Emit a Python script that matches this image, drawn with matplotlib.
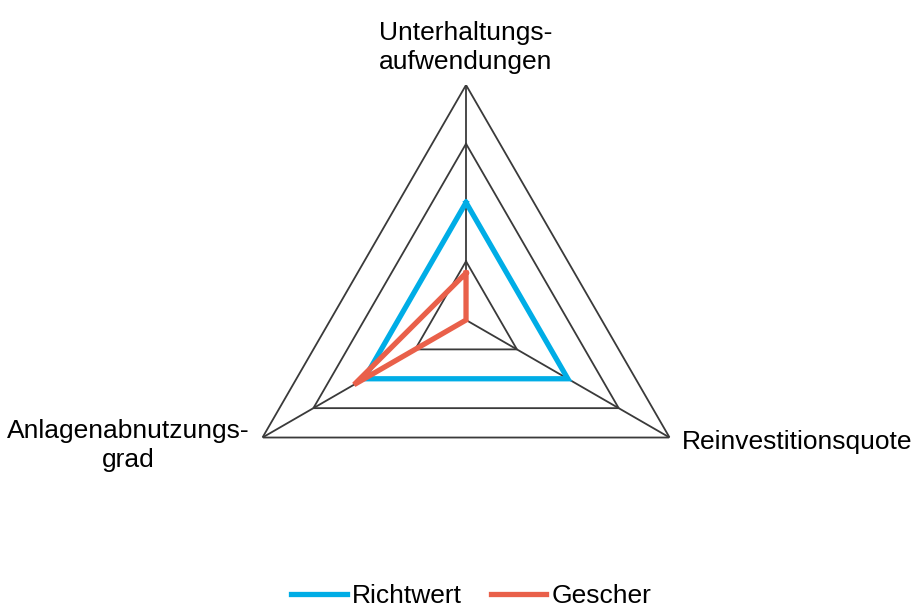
import matplotlib.pyplot as plt
import numpy as np

# --- Data ---
categories = ["Unterhaltungs-\naufwendungen", "Reinvestitionsquote", "Anlagenabnutzungs-\ngrad"]
richtwert = [2.0, 2.0, 2.0]
gescher = [0.8, 0.0, 2.2]
grid_levels = [1, 2, 3, 4]

plt.rcParams["font.family"] = ["Liberation Sans", "DejaVu Sans"]

fig = plt.figure(figsize=(9.12, 6.12), dpi=100)
ax = fig.add_axes([0.2533, 0.0931, 0.5154, 0.768], projection="polar")
ax.set_theta_offset(np.pi / 2)
ax.set_theta_direction(-1)
ax.set_ylim(0, 4)
ax.grid(False)
ax.set_xticks([])
ax.set_yticks([])
ax.spines["polar"].set_visible(False)
ax.patch.set_visible(False)

angles = np.linspace(0, 2 * np.pi, len(categories), endpoint=False)
closed = np.append(angles, angles[0])

# polygon grid and spokes
grid_color = "#3a3a3a"
for lev in grid_levels:
    ax.plot(closed, [lev] * len(closed), color=grid_color, lw=1.3, zorder=1)
for a in angles:
    ax.plot([a, a], [0, grid_levels[-1]], color=grid_color, lw=1.3, zorder=1)

ax.plot(closed, richtwert + richtwert[:1], color="#00ADE6", lw=3.8,
        solid_joinstyle="miter", label="Richtwert", zorder=3)
ax.plot(closed, gescher + gescher[:1], color="#E9604A", lw=3.8,
        solid_joinstyle="miter", label="Gescher", zorder=4)

# axis labels
fs = 19
ax.annotate(categories[0], xy=(angles[0], 4), xytext=(0, 8), textcoords="offset points",
            ha="center", va="bottom", multialignment="center", fontsize=fs,
            linespacing=1.25, annotation_clip=False)
ax.annotate(categories[1], xy=(angles[1], 4), xytext=(9, -3), textcoords="offset points",
            ha="left", va="center", fontsize=fs, annotation_clip=False)
ax.annotate(categories[2], xy=(angles[2], 4), xytext=(-9, -6), textcoords="offset points",
            ha="right", va="center", multialignment="center", fontsize=fs,
            linespacing=1.25, annotation_clip=False)

fig.legend(loc="center", bbox_to_anchor=(0.517, 16 / 612), ncol=2, frameon=False,
           fontsize=fs, handlelength=2.1, handletextpad=0.2, columnspacing=1.1)

fig.savefig("out.png", dpi=100)
